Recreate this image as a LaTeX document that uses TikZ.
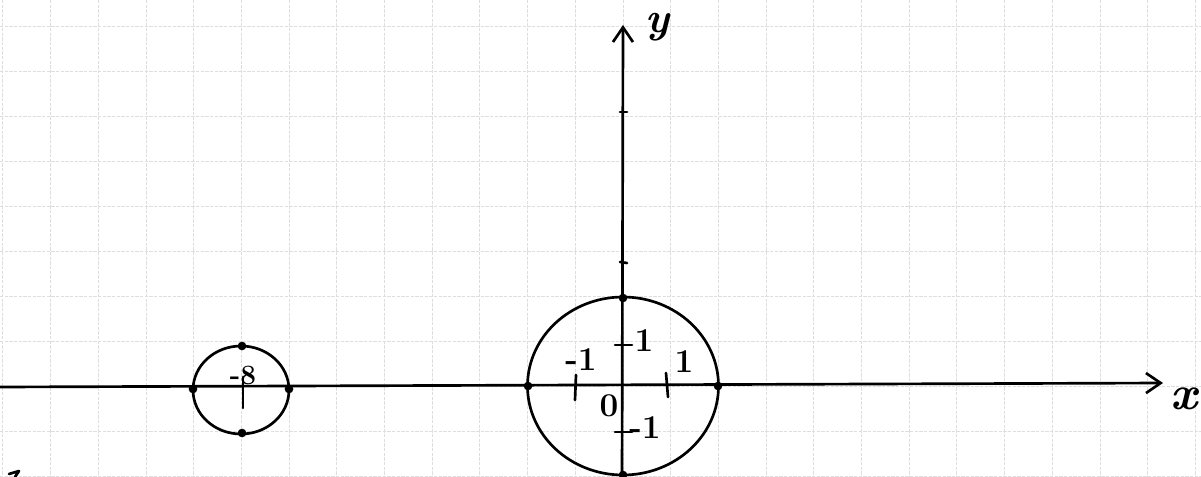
\documentclass[tikz,border=0pt]{standalone}
\usetikzlibrary{arrows.meta}
\begin{document}
\begin{tikzpicture}[x=0.75pt,y=-0.75pt,
  pen/.style={line width=2pt, line cap=round, line join=round},
  gridline/.style={draw=black!13, line width=0.7pt, dash pattern=on 2.5pt off 1pt},
  dot/.style={circle, fill=black, inner sep=0pt, minimum size=6.5pt},
  lab/.style={font=\fontsize{25}{27}\selectfont\bfseries, inner sep=0pt},
  axisarrow/.style={pen, -{Straight Barb[length=11pt,width=15pt,line width=2pt]}}]
\useasboundingbox (0,0) rectangle (1201,477);
\fill[white] (0,0) rectangle (1201,477);
% grid paper
\foreach \i in {-13,...,12} \draw[gridline] ({623+47.7*\i},0) -- ({623+47.7*\i},477);
\foreach \j in {-8,...,2} \draw[gridline] (0,{386+45*\j}) -- (1201,{386+45*\j});
% axes
\coordinate (O) at (623,386);
\coordinate (xs) at (0,387);
\coordinate (xe) at (1163,383);
\coordinate (ys) at (622,482);
\coordinate (ye) at (623,25);
\draw[axisarrow] (xs) -- (xe);
\draw[axisarrow] (ys) -- (ye);
\node[lab, font=\fontsize{36}{38}\selectfont\bfseries\itshape] (xl) at (1184,399) {x};
\node[lab, font=\fontsize{32}{34}\selectfont\bfseries\itshape] (yl) at (657,27) {y};
% ticks on y-axis
\draw[pen] (615,345) -- (632,345);
\draw[pen] (615,432) -- (632,432);
\draw[pen] (620,262) -- (627,263);
\draw[pen] (620,112) -- (627,112);
% ticks on x-axis
\draw[pen] (576,375) -- (575,400);
\draw[pen] (666,373) -- (668,397);
% labels big circle
\node[lab] (l1) at (644,341) {1};
\node[lab] (lm1) at (645,428) {-1};
\node[lab] (lxm1) at (581,360) {-1};
\node[lab] (lx1) at (684,362) {1};
\node[lab] (l0) at (609,406) {0};
% big circle
\draw[pen] (O) ellipse [x radius=95.5, y radius=89];
\node[dot] (A) at (528,386) {};
\node[dot] (B) at (718,386) {};
\node[dot] (T) at (623,298) {};
\node[dot] (Bt) at (623,475) {};
% small circle
\coordinate (C) at (241,390);
\draw[pen] (C) ellipse [x radius=48, y radius=44];
\node[dot] (P1) at (193,389) {};
\node[dot] (P2) at (289,389) {};
\node[dot] (P3) at (242,346) {};
\node[dot] (P4) at (242,433) {};
\draw[pen] (243,377) -- (243,408);
\node[lab, font=\fontsize{21}{23}\selectfont\bfseries] (l8) at (243,375) {-8};
% stray mark bottom left
\draw[pen] (9,474) -- (19,471) -- (15,477);
\end{tikzpicture}
\end{document}
